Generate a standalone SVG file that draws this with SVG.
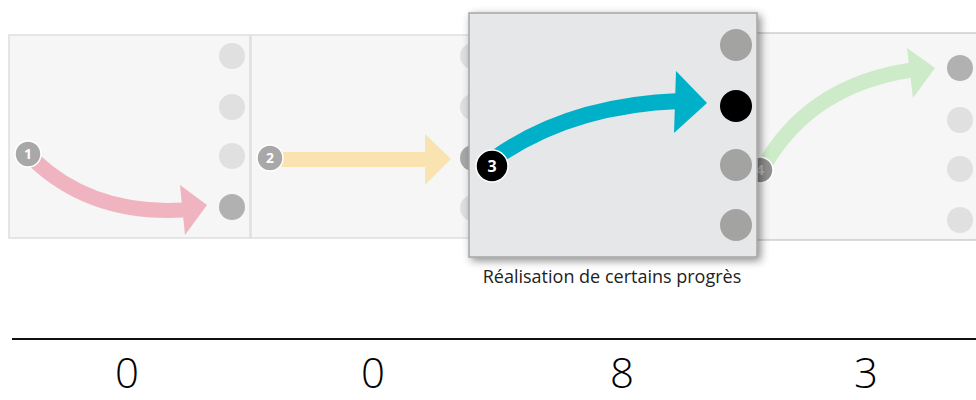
<svg xmlns="http://www.w3.org/2000/svg" width="976" height="400" viewBox="0 0 976 400">
<defs>
<filter id="sh" x="-10%" y="-10%" width="125%" height="125%">
<feDropShadow dx="3" dy="3" stdDeviation="4" flood-color="#000" flood-opacity="0.45"/>
</filter>
<style>
.panel{fill:#f6f6f6;stroke:#dedede;stroke-width:1.5}
.dim{fill:#e0e0e0}
.act{fill:#b1b1b1}
.mid{fill:#a3a3a2}
.num{fill:#ffffff;font-family:"Open Sans","DejaVu Sans",sans-serif;font-weight:bold;text-anchor:middle}
.big{fill:#000;font-family:"Open Sans","Liberation Sans",sans-serif;font-weight:300;font-size:42px;text-anchor:middle}
</style>
</defs>
<g id="panel1">
<rect class="panel" x="9" y="35" width="241" height="203"/>
<circle class="dim" cx="232" cy="56" r="13"/>
<circle class="dim" cx="232" cy="107" r="13"/>
<circle class="dim" cx="232" cy="156" r="13"/>
<circle class="act" cx="232" cy="207" r="13"/>
</g>
<g id="panel2">
<rect class="panel" x="251" y="35" width="230" height="203"/>
<circle class="dim" cx="473" cy="56" r="13"/>
<circle class="dim" cx="473" cy="107" r="13"/>
<circle fill="#a8a8a8" cx="473" cy="158" r="13"/>
<circle class="dim" cx="473" cy="208" r="13"/>
</g>
<g id="panel4">
<rect x="745" y="33" width="240" height="207" fill="#f6f6f6" stroke="#c4c4c4" stroke-width="1.2"/>
<circle class="act" cx="960" cy="68" r="13"/>
<circle class="dim" cx="960" cy="120" r="13"/>
<circle class="dim" cx="960" cy="169" r="13"/>
<circle class="dim" cx="960" cy="220" r="13"/>
</g>
<g id="connectors">
<path d="M34,160 Q92,215 183,210" fill="none" stroke="#efb4c0" stroke-width="15"/>
<polygon points="180,185 207,205 185,235" fill="#efb4c0"/>
<rect x="280" y="152" width="147" height="15" fill="#f9e3b0"/>
<polygon points="425,134 451,159 425,185" fill="#f9e3b0"/>
<path d="M764,166 Q810,85 912,70" fill="none" stroke="#cdebc8" stroke-width="15"/>
<polygon points="907,48 935,68 913,98" fill="#cdebc8"/>
</g>
<g id="node1">
<circle cx="28" cy="154" r="13" fill="#a8a8a8" stroke="#fff" stroke-width="1.5"/>
<text class="num" x="28" y="159" font-size="14">1</text>
</g>
<g id="node2">
<circle cx="270" cy="158" r="13" fill="#a8a8a8" stroke="#fff" stroke-width="1.5"/>
<text class="num" x="270" y="163" font-size="14">2</text>
</g>
<g id="node4">
<circle cx="760" cy="170" r="13" fill="#8e8e8e" stroke="#fff" stroke-width="1.5"/>
<text class="num" x="760" y="175" font-size="14" style="fill:#bdbdbd">4</text>
</g>
<g id="panel3">
<rect x="469" y="13" width="288" height="244" fill="#e6e7e8" stroke="#a5a5a5" stroke-width="1.5" filter="url(#sh)"/>
<circle class="mid" cx="736" cy="45" r="16"/>
<circle fill="#000" cx="736" cy="106" r="16"/>
<circle class="mid" cx="736" cy="165" r="16"/>
<circle class="mid" cx="736" cy="225" r="16"/>
<path d="M495,158 Q570,105 680,101" fill="none" stroke="#00b0c8" stroke-width="16"/>
<polygon points="676,71 707,103 674,133" fill="#00b0c8"/>
<text x="612" y="283" font-family="'Open Sans','Liberation Sans',sans-serif" font-size="18" fill="#222" text-anchor="middle">Réalisation de certains progrès</text>
</g>
<g id="node3">
<circle cx="492" cy="166" r="16" fill="#000" stroke="#fff" stroke-width="1.5"/>
<text class="num" x="492" y="172" font-size="16">3</text>
</g>
<g id="scale">
<line x1="12" y1="339" x2="976" y2="339" stroke="#111" stroke-width="2"/>
<text class="big" x="127" y="388">0</text>
<text class="big" x="373" y="388">0</text>
<text class="big" x="622" y="388">8</text>
<text class="big" x="866" y="388">3</text>
</g>
</svg>
